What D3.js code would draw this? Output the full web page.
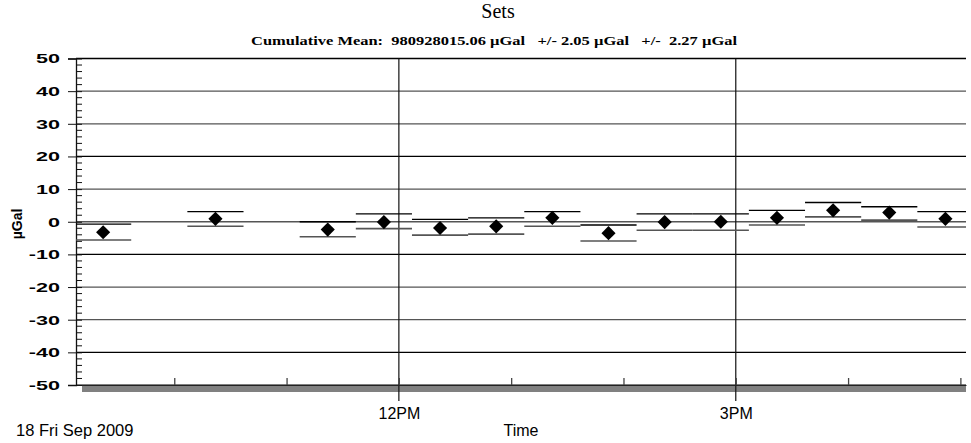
<!DOCTYPE html>
<html>
<head>
<meta charset="utf-8">
<script src="https://cdn.jsdelivr.net/npm/d3@7"></script>
<style>
  body { margin: 0; background: #fff; }
  text { font-family: "Liberation Sans", Arial, sans-serif; }
  text.serif { font-family: "Liberation Serif", "Times New Roman", serif; }
</style>
</head>
<body>
<svg id="chart"></svg>
<script>
// Set centre times (each set lasts 30 minutes)
const setTimes = ["09:22", "10:22", "11:22", "11:52", "12:22", "12:52", "13:22",
                  "13:52", "14:22", "14:52", "15:22", "15:52", "16:22", "16:52"];
// Set means (µGal, relative to cumulative mean)
const setValues = [-3.2, 0.9, -2.4, -0.1, -1.9, -1.4, 1.2, -3.5, -0.1, 0.0, 1.2, 3.5, 2.8, 0.9];
const setUpper  = [-0.7, 3.1, 0.0, 2.4, 0.7, 1.2, 3.1, -1.0, 2.4, 2.4, 3.5, 5.9, 4.6, 3.1];
const setLower  = [-5.6, -1.4, -4.6, -2.1, -4.1, -3.8, -1.4, -5.9, -2.6, -2.6, -1.0, 1.5, 0.5, -1.6];
const yTicks = [-50, -40, -30, -20, -10, 0, 10, 20, 30, 40, 50];
const xLabels = { 12: "12PM", 15: "3PM" };

const day = "2009-09-18";
const parse = d3.timeParse("%Y-%m-%d %H:%M:%S");

const data = setTimes.map((t, i) => ({
    t: parse(`${day} ${t}:00`),
    v: setValues[i],
    hi: setUpper[i],
    lo: setLower[i]
}));

const width = 971, height = 443;
const margin = { top: 58.5, right: 5, bottom: 58, left: 76 };
const svg = d3.select("#chart").attr("width", width).attr("height", height);

const x = d3.scaleTime()
    .domain([parse(`${day} 09:07:30`), parse(`${day} 17:03:00`)])
    .range([margin.left, width - margin.right]);

const y = d3.scaleLinear()
    .domain([-50, 50])
    .range([height - margin.bottom, margin.top]);

const x0 = margin.left, x1 = width - margin.right;
const yBottom = y(-50), yTop = y(50);

svg.append("defs").append("clipPath").attr("id", "clip")
   .append("rect").attr("x", x0).attr("y", yTop - 10)
   .attr("width", x1 - x0).attr("height", yBottom - yTop + 20);

// Horizontal grid
svg.append("g")
   .selectAll("line")
   .data(yTicks)
   .join("line")
   .attr("x1", x0).attr("x2", x1)
   .attr("y1", d => y(d)).attr("y2", d => y(d))
   .attr("stroke", (d, i) => i % 3 === 1 ? "#000" : "#555")
   .attr("stroke-width", 1.3);

// Gray band under the plot
svg.append("rect")
   .attr("x", x0 + 6).attr("y", yBottom)
   .attr("width", x1 - x0 - 6).attr("height", 7)
   .attr("fill", "#808080");

// Vertical grid at labelled hours
const labelHours = Object.keys(xLabels).map(h => parse(`${day} ${h}:00:00`));
svg.append("g")
   .selectAll("line")
   .data(labelHours)
   .join("line")
   .attr("x1", d => x(d)).attr("x2", d => x(d))
   .attr("y1", yTop).attr("y2", yBottom + 16)
   .attr("stroke", "#111")
   .attr("stroke-width", 1.2);

// X axis (hourly ticks pointing up into the plot)
const xAxis = svg.append("g")
   .attr("transform", `translate(0, ${yBottom})`)
   .call(d3.axisBottom(x)
        .ticks(d3.timeHour.every(1))
        .tickSizeInner(-7)
        .tickSizeOuter(0)
        .tickFormat(d => xLabels[d.getHours()] || ""));
xAxis.select(".domain").attr("stroke", "#222").attr("stroke-width", 1.2);
xAxis.selectAll(".tick line").attr("stroke", "#444").attr("stroke-width", 1.3);
xAxis.selectAll(".tick text")
     .attr("y", 34)
     .attr("dy", 0)
     .style("font-size", "16px")
     .attr("fill", "#000");

// Y axis: minor ticks every 2, major every 10
const minor = d3.range(-50, 51, 2).filter(d => d % 10 !== 0);
svg.append("g")
   .selectAll("line")
   .data(minor)
   .join("line")
   .attr("x1", x0).attr("x2", x0 + 6)
   .attr("y1", d => y(d)).attr("y2", d => y(d))
   .attr("stroke", "#111");

const yAxis = svg.append("g")
   .attr("transform", `translate(${x0}, 0)`)
   .call(d3.axisLeft(y)
        .tickValues(yTicks)
        .tickSizeOuter(0)
        .tickSize(8)
        .tickFormat(d => String(d)));
yAxis.select(".domain").attr("stroke", "#111").attr("stroke-width", 1.3);
yAxis.selectAll(".tick line").attr("stroke", "#111").attr("x2", 6).attr("x1", -8);
yAxis.selectAll(".tick text")
     .attr("x", -16 / 1.6)
     .attr("transform", "scale(1.6,1)")
     .style("font-size", "13.5px")
     .style("font-weight", "bold")
     .attr("fill", "#000");

// Set error bars (upper and lower horizontal bars spanning the set)
const half = 15 * 60 * 1000;
const bars = svg.append("g").attr("clip-path", "url(#clip)");
bars.selectAll("line.hi")
    .data(data)
    .join("line")
    .attr("class", "hi")
    .attr("x1", d => x(new Date(+d.t - half))).attr("x2", d => x(new Date(+d.t + half)))
    .attr("y1", d => y(d.hi)).attr("y2", d => y(d.hi))
    .attr("stroke", "#000").attr("stroke-width", 1.3);
bars.selectAll("line.lo")
    .data(data)
    .join("line")
    .attr("class", "lo")
    .attr("x1", d => x(new Date(+d.t - half))).attr("x2", d => x(new Date(+d.t + half)))
    .attr("y1", d => y(d.lo)).attr("y2", d => y(d.lo))
    .attr("stroke", "#555").attr("stroke-width", 1.6);

// Diamonds
svg.append("g")
   .selectAll("path")
   .data(data)
   .join("path")
   .attr("d", d3.symbol(d3.symbolSquare, 100))
   .attr("transform", d => `translate(${x(d.t)}, ${y(d.v)}) rotate(45)`)
   .attr("fill", "#000");

// Titles
svg.append("text")
   .attr("class", "serif")
   .attr("x", 498).attr("y", 18)
   .attr("text-anchor", "middle")
   .style("font-size", "20px")
   .text("Sets");

svg.append("text")
   .attr("class", "serif")
   .attr("x", 494).attr("y", 45)
   .attr("text-anchor", "middle")
   .attr("textLength", 486)
   .attr("lengthAdjust", "spacingAndGlyphs")
   .style("font-size", "13px")
   .style("font-weight", "bold")
   .style("white-space", "pre")
   .text("Cumulative Mean:  980928015.06 \u00b5Gal   +/- 2.05 \u00b5Gal   +/-  2.27 \u00b5Gal");

// Axis titles
svg.append("text")
   .attr("transform", "translate(22, 224) rotate(-90)")
   .attr("text-anchor", "middle")
   .style("font-size", "14px")
   .style("font-weight", "bold")
   .text("\u00b5Gal");

svg.append("text")
   .attr("x", (x0 + x1) / 2).attr("y", 436)
   .attr("text-anchor", "middle")
   .style("font-size", "16px")
   .text("Time");

svg.append("text")
   .attr("x", 16).attr("y", 436)
   .style("font-size", "16.5px")
   .text("18 Fri Sep 2009");
</script>
</body>
</html>
